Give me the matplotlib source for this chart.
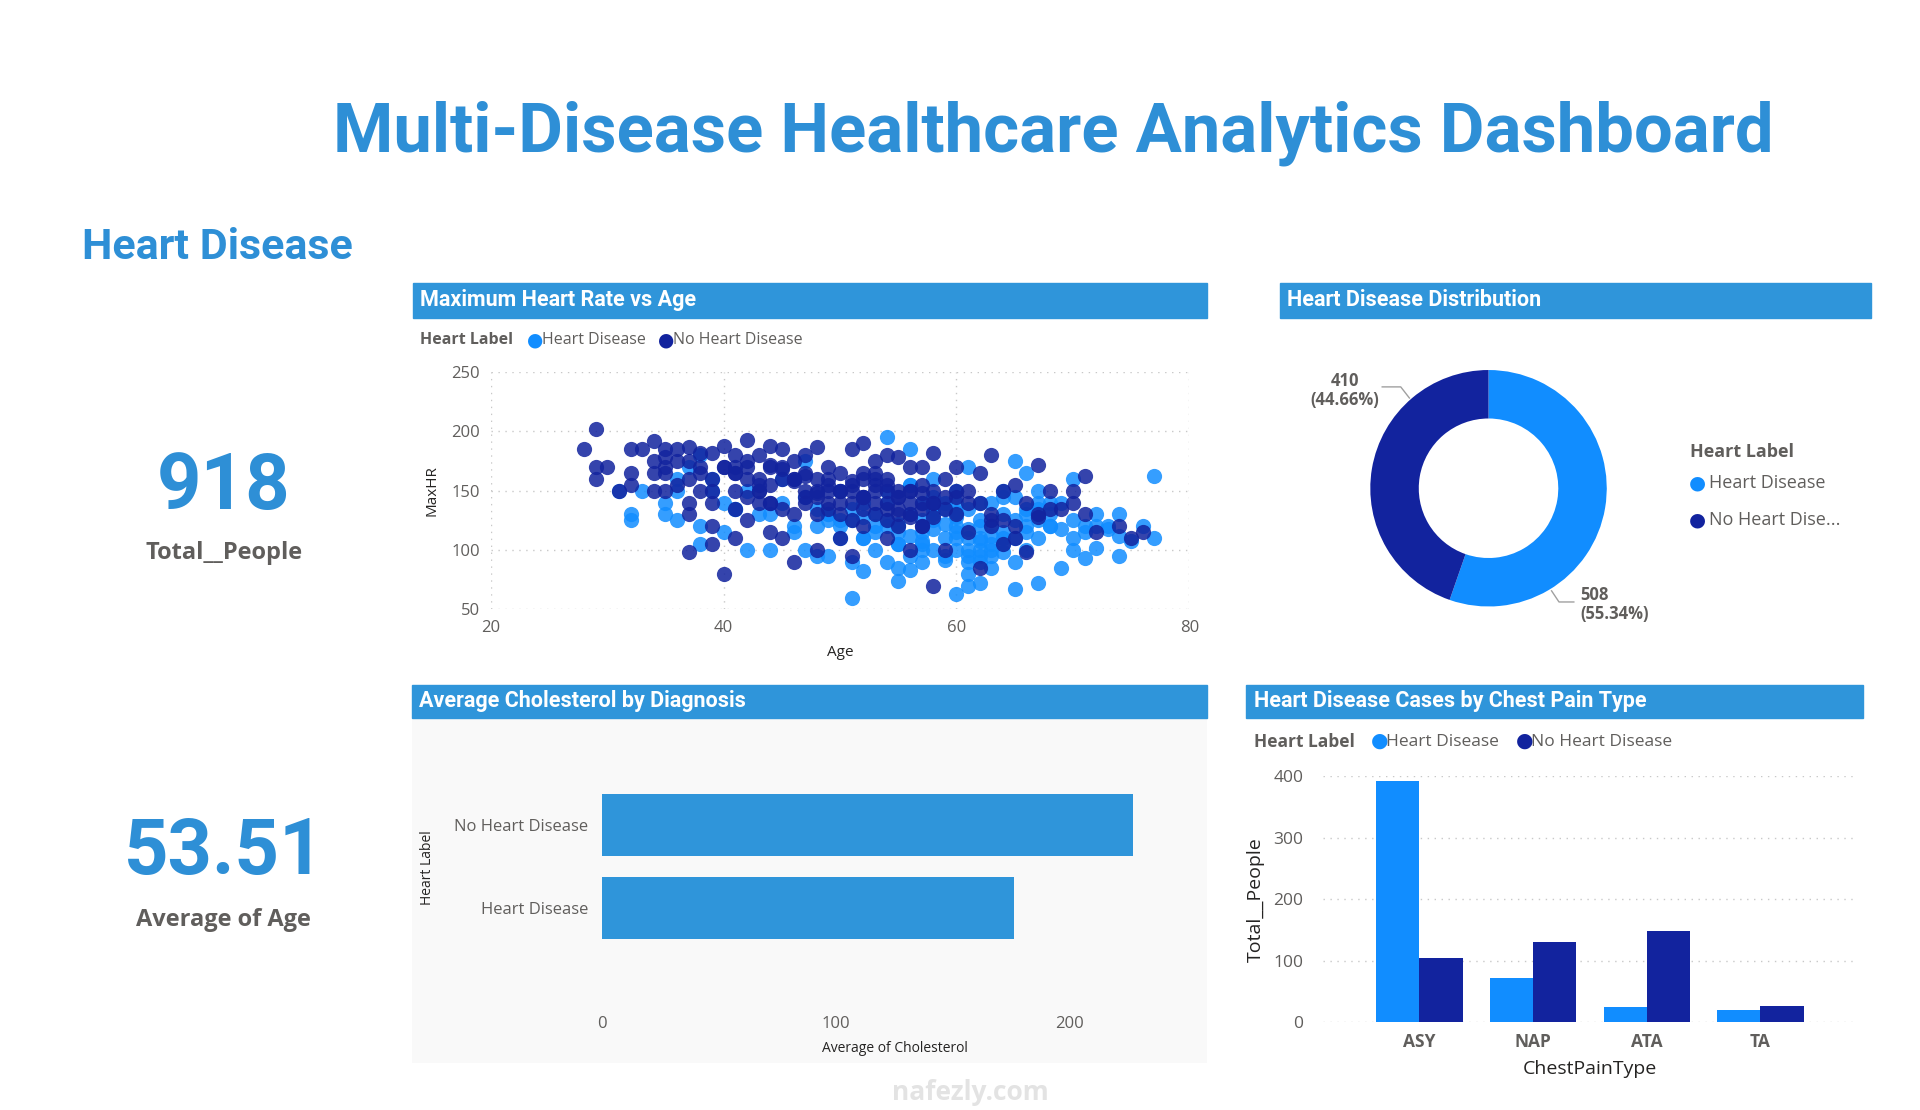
import matplotlib
matplotlib.use("Agg")
import matplotlib.pyplot as plt
from matplotlib.patches import Rectangle
import numpy as np

plt.rcParams['font.family'] = ['Open Sans', 'DejaVu Sans']

LIGHT = '#118DFF'
DARK = '#12239E'
HEAD = '#2F95DA'
TITLE = '#2E8FD6'
GRAY = '#605E5C'

# ---------------- data ----------------
hd_age = [31,32,32,33,35,35,36,36,38,38,39,40,41,42,44,45,46,47,48,49,49,50,51,51,52,53,54,54,55,55,
          56,57,57,58,59,60,60,61,61,61,62,62,63,63,64,65,65,65,66,66,67,67,68,69,70,70,71,71,72,72,
          73,74,74,75,76,77,77,56,58,59,60,62,64,66,68,50,45,47,53,55,57,43,40,38,36,46,52,48,60,63,
          61,62,58,59,57,55,54,60,61,63,64,65,62,66,67,69,70,56,53,51,49,47,44,42,41,39,37,50,52,54,
          55,56,57,58,59,60,61,62,63,64,65,66,67,68,59,60,61,62,63,58,57,56,55,54,53,52,51,50,49,48,
          60,61,62,63,64,65,66,67,61,62,64,58,59,57,56,55,70,71,72,73,74,68,69,67,64,60,58,56,54,52]
hd_hr = [150,130,125,150,140,130,125,160,120,105,150,115,135,100,100,140,115,100,95,95,130,110,60,90,82,100,195,90,74,85,
         83,90,115,100,95,63,120,70,80,170,72,110,95,120,130,175,67,90,165,120,72,110,130,85,100,160,93,120,102,130,
         120,95,130,108,120,110,162,185,130,110,140,140,110,100,120,150,160,175,130,115,140,130,140,180,150,120,110,120,100,85,
         90,100,125,135,105,120,125,115,135,140,150,145,125,135,150,140,125,155,120,135,125,145,130,150,135,160,170,125,140,150,
         105,112,108,118,122,110,100,95,105,115,125,130,135,120,140,128,118,108,112,135,125,130,122,120,115,110,125,120,130,135,
         150,95,90,100,105,110,115,140,110,120,98,145,92,100,95,105,110,115,120,118,112,140,118,125,145,132,160,155,140,128]
nohd_age = [28,29,29,29,30,31,32,32,32,33,34,34,34,35,35,35,36,37,37,37,37,37,38,38,39,39,39,39,40,40,
            41,41,41,42,42,42,43,43,44,44,44,45,45,46,46,47,47,48,48,48,49,49,50,50,51,51,51,52,52,52,
            53,53,54,54,54,55,55,56,56,56,57,57,58,58,58,59,59,60,60,61,61,62,62,63,63,64,64,65,66,66,
            67,67,68,69,70,70,71,71,72,74,75,76,41,43,45,47,49,51,53,55,57,40,42,44,46,48,50,52,54,56,
            58,60,36,38,39,41,43,45,47,49,51,53,55,57,59,61,63,65,54,52,50,48,46,44,
            40,41,42,43,44,45,46,47,48,49,50,51,52,53,54,55,56,57,58,59,60,41,42,43,44,45,46,47,48,49,
            50,51,52,53,54,55,56,57,58,52,53,54,55,56,57,35,36,37,38,39,62,63,64,65,67,68,34,35]
nohd_hr = [185,202,170,160,170,150,185,165,155,185,192,175,150,185,170,150,185,187,160,140,130,98,182,150,182,160,120,105,188,80,
           180,150,110,193,170,125,180,140,188,155,115,185,110,175,90,180,150,187,130,100,170,140,165,110,185,140,95,190,160,120,
           175,140,180,150,110,178,130,170,140,100,170,120,182,150,70,160,100,170,130,150,115,165,85,180,130,150,105,155,140,98,
           172,130,150,135,150,140,162,130,115,120,110,115,165,160,170,165,160,155,165,150,155,170,175,170,160,160,150,145,160,150,
           140,150,175,170,140,170,150,160,145,135,150,155,145,140,145,140,125,120,135,145,140,150,160,140,
           170,165,160,155,172,168,158,162,148,155,150,158,165,160,155,145,150,148,140,135,145,135,145,150,140,135,130,140,145,150,
           130,125,135,130,125,120,130,135,128,145,150,140,135,128,120,165,155,175,165,150,140,120,125,110,128,135,165,178]

donut_labels = ['Heart Disease', 'No Heart Disease']
donut_vals = [508, 410]

chol_labels = ['Heart Disease', 'No Heart Disease']
chol_vals = [175.9, 227.1]

cp_types = ['ASY', 'NAP', 'ATA', 'TA']
cp_hd = [392, 72, 24, 20]
cp_nohd = [104, 131, 149, 26]

kpi_total = '918'
kpi_age = '53.51'

# ---------------- layout helpers ----------------
W, H = 1553.0, 898.0
def fx(x): return x / W
def fy(y): return 1 - y / H
def box(x0, y0, x1, y1): return [fx(x0), fy(y1), (x1 - x0) / W, (y1 - y0) / H]

fig = plt.figure(figsize=(19.2, 11.1), dpi=100)
fig.patch.set_facecolor('white')

fig.text(fx(852), fy(108), 'Multi-Disease Healthcare Analytics Dashboard', ha='center', va='center',
         fontsize=49.5, fontweight='bold', color=TITLE, family=['Roboto', 'DejaVu Sans'])
fig.text(fx(66), fy(200), 'Heart Disease', ha='left', va='center', fontsize=31, fontweight='bold',
         color=TITLE, family=['Roboto', 'DejaVu Sans'])

# KPIs
fig.text(fx(181), fy(395), kpi_total, ha='center', va='center', fontsize=56, fontweight='bold', color=TITLE,
         family=['Roboto', 'DejaVu Sans'])
fig.text(fx(181), fy(447), 'Total__People', ha='center', va='center', fontsize=17, fontweight='bold', color=GRAY)
fig.text(fx(181), fy(690), kpi_age, ha='center', va='center', fontsize=56, fontweight='bold', color=TITLE,
         family=['Roboto', 'DejaVu Sans'])
fig.text(fx(181), fy(744), 'Average of Age', ha='center', va='center', fontsize=17, fontweight='bold', color=GRAY)

def header(x0, y0, x1, y1, text):
    fig.patches.append(Rectangle((fx(x0), fy(y1)), (x1 - x0) / W, (y1 - y0) / H,
                                 transform=fig.transFigure, color=HEAD, zorder=0))
    fig.text(fx(x0 + 6), fy((y0 + y1) / 2), text, ha='left', va='center', fontsize=15.5,
             fontweight='bold', color='white', family=['Roboto', 'DejaVu Sans'])

header(334, 229, 976, 257, 'Maximum Heart Rate vs Age')
header(1035, 229, 1513, 257, 'Heart Disease Distribution')
header(333, 554, 976, 581, 'Average Cholesterol by Diagnosis')
header(1008, 554, 1507, 581, 'Heart Disease Cases by Chest Pain Type')

def draw_legend(x, y, offs, fs):
    fig.text(fx(x), fy(y), 'Heart Label', ha='left', va='center', fontsize=fs, fontweight='bold', color=GRAY)
    for col, lab, dx in zip([LIGHT, DARK], ['Heart Disease', 'No Heart Disease'], offs):
        fig.text(fx(x + dx), fy(y), '\u25CF', ha='left', va='center', fontsize=fs + 2, color=col,
                 family=['DejaVu Sans'])
        fig.text(fx(x + dx + 12), fy(y), lab, ha='left', va='center', fontsize=fs, color=GRAY)

# ---------------- scatter ----------------
draw_legend(340, 275, [86, 192], 11.5)
ax1 = fig.add_axes(box(397, 301, 962, 493))
ax1.scatter(hd_age, hd_hr, s=120, color=LIGHT, alpha=0.85, linewidths=0, zorder=3)
ax1.scatter(nohd_age, nohd_hr, s=120, color=DARK, alpha=0.85, linewidths=0, zorder=3)
ax1.set_xlim(20, 80)
ax1.set_ylim(50, 250)
ax1.set_xticks([20, 40, 60, 80])
ax1.set_yticks([50, 100, 150, 200, 250])
ax1.grid(True, linestyle=(0, (1, 4)), color='#c8c8c8', linewidth=1)
for s in ax1.spines.values():
    s.set_visible(False)
ax1.tick_params(length=0, labelsize=12, labelcolor=GRAY, pad=8)
ax1.set_xlabel('Age', fontsize=11, color='#252423', labelpad=6)
ax1.set_ylabel('MaxHR', fontsize=11, color='#252423', labelpad=8)

# ---------------- donut ----------------
ax2 = fig.add_axes(box(1204 - 110, 395 - 110, 1204 + 110, 395 + 110))
ax2.pie(donut_vals, colors=[LIGHT, DARK], startangle=90, counterclock=False,
        radius=1.0, wedgeprops=dict(width=0.41, linewidth=0))
ax2.set_xlim(-1.15, 1.15); ax2.set_ylim(-1.15, 1.15)
ax2.set_aspect('equal'); ax2.axis('off')
tot = sum(donut_vals)
fig.text(fx(1088), fy(316), f'{donut_vals[1]}\n({donut_vals[1]/tot*100:.2f}%)', ha='center', va='center',
         fontsize=12, fontweight='bold', color=GRAY, linespacing=1.1)
fig.add_artist(plt.Line2D([fx(1118), fx(1133), fx(1140)], [fy(313), fy(313), fy(322)],
                          transform=fig.transFigure, color='#a0a0a0', lw=1))
fig.text(fx(1278), fy(489), f'{donut_vals[0]}\n({donut_vals[0]/tot*100:.2f}%)', ha='left', va='center',
         fontsize=12, fontweight='bold', color=GRAY, linespacing=1.1)
fig.add_artist(plt.Line2D([fx(1255), fx(1261), fx(1273)], [fy(478), fy(487), fy(487)],
                          transform=fig.transFigure, color='#a0a0a0', lw=1))
fig.text(fx(1367), fy(366), 'Heart Label', ha='left', va='center', fontsize=13, fontweight='bold', color=GRAY)
for col, lab, yy in [(LIGHT, 'Heart Disease', 391), (DARK, 'No Heart Dise...', 421)]:
    fig.text(fx(1366), fy(yy), '\u25CF', ha='left', va='center', fontsize=14, color=col, family=['DejaVu Sans'])
    fig.text(fx(1382), fy(yy), lab, ha='left', va='center', fontsize=13, color=GRAY)

# ---------------- cholesterol ----------------
bg = fig.add_axes(box(333, 581, 976, 860))
bg.set_facecolor('#F9F9F9'); bg.set_xticks([]); bg.set_yticks([])
for s in bg.spines.values():
    s.set_visible(False)
ax3 = fig.add_axes(box(487, 627, 960, 775))
ax3.patch.set_alpha(0)
ax3.barh([0, 1], chol_vals, height=0.74, color=HEAD)
ax3.set_xlim(0, 250)
ax3.set_ylim(-0.6, 1.6)
ax3.set_yticks([0, 1]); ax3.set_yticklabels(chol_labels)
ax3.set_xticks([0, 100, 200])
for s in ax3.spines.values():
    s.set_visible(False)
ax3.tick_params(length=0, labelsize=12, labelcolor=GRAY)
ax3.tick_params(axis='y', pad=10)
ax3.tick_params(axis='x', pad=42)
ax3.set_xlabel('Average of Cholesterol', fontsize=10, color='#252423', labelpad=6)
fig.text(fx(346), fy(702), 'Heart Label', rotation=90, ha='center', va='center', fontsize=10, color='#252423')

fig.text(fx(785), fy(884), 'nafezly.com', ha='center', va='center', fontsize=19, fontweight='bold',
         color='#e3e3e3', zorder=10)

# ---------------- chest pain bars ----------------
draw_legend(1014, 600, [95, 212], 12.5)
ax4 = fig.add_axes(box(1070, 628, 1502, 827))
x = np.arange(len(cp_types))
bw = 0.38
ax4.bar(x - bw / 2, cp_hd, width=bw, color=LIGHT, zorder=3)
ax4.bar(x + bw / 2, cp_nohd, width=bw, color=DARK, zorder=3)
ax4.set_xlim(-0.85, 3.85)
ax4.set_ylim(0, 400)
ax4.set_yticks([0, 100, 200, 300, 400])
ax4.set_xticks(x); ax4.set_xticklabels(cp_types, fontweight='bold')
ax4.grid(True, axis='y', linestyle=(0, (1, 4)), color='#c8c8c8', linewidth=1)
for s in ax4.spines.values():
    s.set_visible(False)
ax4.tick_params(length=0, labelsize=12.5, labelcolor=GRAY, pad=8)
ax4.tick_params(axis='y', pad=14)
ax4.set_xlabel('ChestPainType', fontsize=14, color='#252423', labelpad=6)
ax4.set_ylabel('Total__People', fontsize=14, color='#252423', labelpad=6)

fig.savefig('out.png', dpi=100, facecolor='white')
